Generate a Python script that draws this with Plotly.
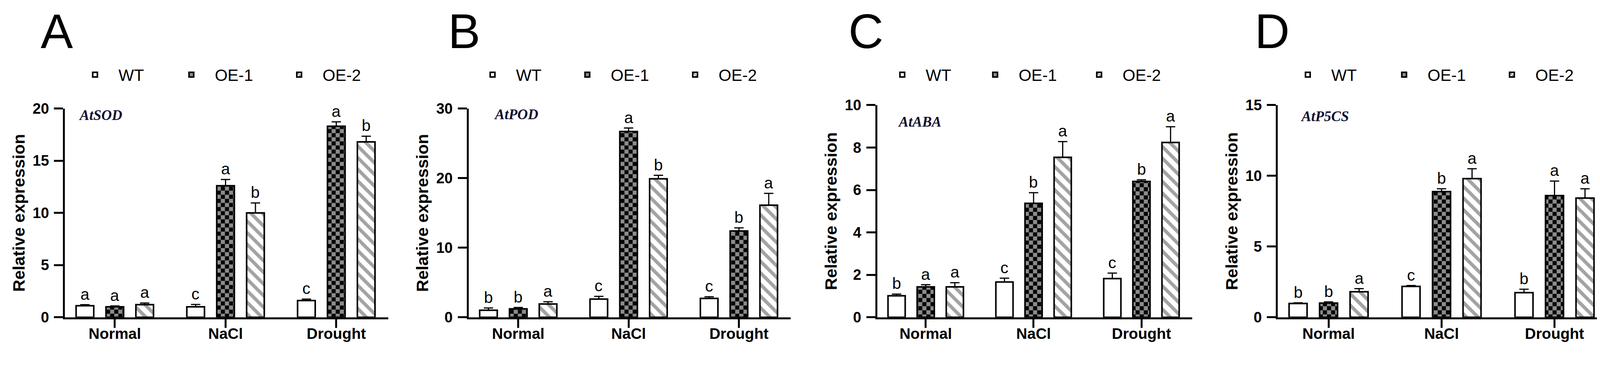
import plotly.graph_objects as go

FIG_W, FIG_H = 4233, 939

# ---------------- data ----------------
conditions = ["Normal", "NaCl", "Drought"]
genotypes = ["WT", "OE-1", "OE-2"]
panel_labels = ["A", "B", "C", "D"]
gene_names = ["AtSOD", "AtPOD", "AtABA", "AtP5CS"]
y_title = "Relative expression"

# A  AtSOD
sod_wt = [1.10, 1.00, 1.60]
sod_wt_sd = [0.10, 0.22, 0.14]
sod_oe1 = [1.00, 12.6, 18.3]
sod_oe1_sd = [0.08, 0.60, 0.42]
sod_oe2 = [1.20, 10.0, 16.8]
sod_oe2_sd = [0.16, 0.95, 0.55]
sod_wt_sig = ["a", "c", "c"]
sod_oe1_sig = ["a", "a", "a"]
sod_oe2_sig = ["a", "b", "b"]
sod_yticks = [0, 5, 10, 15, 20]

# B  AtPOD
pod_wt = [1.00, 2.60, 2.70]
pod_wt_sd = [0.33, 0.40, 0.25]
pod_oe1 = [1.20, 26.7, 12.4]
pod_oe1_sd = [0.20, 0.50, 0.45]
pod_oe2 = [1.90, 19.9, 16.1]
pod_oe2_sd = [0.33, 0.50, 1.70]
pod_wt_sig = ["b", "c", "c"]
pod_oe1_sig = ["b", "a", "b"]
pod_oe2_sig = ["a", "b", "a"]
pod_yticks = [0, 10, 20, 30]

# C  AtABA
aba_wt = [1.01, 1.66, 1.82]
aba_wt_sd = [0.08, 0.18, 0.26]
aba_oe1 = [1.43, 5.37, 6.40]
aba_oe1_sd = [0.10, 0.50, 0.08]
aba_oe2 = [1.43, 7.54, 8.24]
aba_oe2_sd = [0.20, 0.74, 0.74]
aba_wt_sig = ["b", "c", "c"]
aba_oe1_sig = ["a", "b", "b"]
aba_oe2_sig = ["a", "a", "a"]
aba_yticks = [0, 2, 4, 6, 8, 10]

# D  AtP5CS
p5cs_wt = [0.97, 2.18, 1.74]
p5cs_wt_sd = [0.05, 0.06, 0.24]
p5cs_oe1 = [1.00, 8.88, 8.60]
p5cs_oe1_sd = [0.08, 0.20, 1.03]
p5cs_oe2 = [1.80, 9.80, 8.43]
p5cs_oe2_sd = [0.22, 0.70, 0.65]
p5cs_wt_sig = ["b", "c", "b"]
p5cs_oe1_sig = ["b", "b", "a"]
p5cs_oe2_sig = ["a", "a", "a"]
p5cs_yticks = [0, 5, 10, 15]

panels = [
    dict(vals=[sod_wt, sod_oe1, sod_oe2], sds=[sod_wt_sd, sod_oe1_sd, sod_oe2_sd],
         sig=[sod_wt_sig, sod_oe1_sig, sod_oe2_sig], ticks=sod_yticks),
    dict(vals=[pod_wt, pod_oe1, pod_oe2], sds=[pod_wt_sd, pod_oe1_sd, pod_oe2_sd],
         sig=[pod_wt_sig, pod_oe1_sig, pod_oe2_sig], ticks=pod_yticks),
    dict(vals=[aba_wt, aba_oe1, aba_oe2], sds=[aba_wt_sd, aba_oe1_sd, aba_oe2_sd],
         sig=[aba_wt_sig, aba_oe1_sig, aba_oe2_sig], ticks=aba_yticks),
    dict(vals=[p5cs_wt, p5cs_oe1, p5cs_oe2], sds=[p5cs_wt_sd, p5cs_oe1_sd, p5cs_oe2_sd],
         sig=[p5cs_wt_sig, p5cs_oe1_sig, p5cs_oe2_sig], ticks=p5cs_yticks),
]

# ---------------- layout constants (reference pixels) ----------------
KX, KY, KF = 1.022, 1.03, 1.025   # compensation for how the page is photographed
MARGIN = 8

AX_LEFT = [170, 1226, 2295, 3343]
AX_RIGHT = [1016, 2069, 3119, 4206]
AX_TOP = [286, 286, 277, 277]
AX_BOTTOM = 836
LETTER_X = [149, 1215, 2266, 3329]
LETTER_Y = 82
LEG_TEXT_X = [[310, 562, 844], [1350, 1598, 1880], [2422, 2665, 2937], [3483, 3735, 4017]]
LEGEND_Y = 197
GENE_X = [204, 1291, 2348, 3401]
GENE_Y = [303, 301, 321, 306]
XRANGE = [-0.45, 2.47]
BARGAP = 0.19
BARGROUPGAP = 0.41
ITEMW = 110

SANS = "Liberation Sans, Arial, sans-serif"
SERIF = "Liberation Serif, Times New Roman, serif"


def X(px):
    return px / KX - MARGIN


def Y(py):
    return py / KY - MARGIN


def F(sz):
    return round(sz / KF)


def fx(px):
    return X(px) / FIG_W


def fy(py):
    return 1 - Y(py) / FIG_H


# pattern availability check
try:
    go.bar.marker.Pattern(path="M0,0H8V8H0Z")
    HAS_PATH = True
except Exception:
    HAS_PATH = False

if HAS_PATH:
    checker = dict(path="M0,0H10.5V10.5H0ZM10.5,10.5H21V21H10.5Z", size=21, fgcolor="#8c8c8c",
                   bgcolor="#050505", fgopacity=1, fillmode="replace")
else:
    checker = dict(shape="+", size=20, solidity=0.5, fgcolor="#8c8c8c",
                   bgcolor="#050505", fgopacity=1, fillmode="replace")

stripes = dict(shape="\\", size=21, solidity=0.42, fgcolor="#a3a3a3",
               bgcolor="white", fgopacity=1, fillmode="replace")

bar_styles = [
    dict(color="white"),
    dict(color="#050505", pattern=checker),
    dict(color="white", pattern=stripes),
]

fig = go.Figure()
annotations = []
legend_layouts = {}
n_leg = 0

for k, p in enumerate(panels):
    sfx = "" if k == 0 else str(k + 1)
    for j, g in enumerate(genotypes):
        n_leg += 1
        leg = "legend" if n_leg == 1 else f"legend{n_leg}"
        st = bar_styles[j]
        marker = dict(color=st["color"], line=dict(color="black", width=4))
        if "pattern" in st:
            marker["pattern"] = st["pattern"]
        fig.add_trace(go.Bar(
            x=conditions, y=p["vals"][j], name=g,
            marker=marker,
            error_y=dict(type="data", array=p["sds"][j], arrayminus=[0] * len(conditions),
                         symmetric=False, color="black", thickness=3, width=12),
            xaxis="x" + sfx, yaxis="y" + sfx, legend=leg, offsetgroup=str(j),
            showlegend=True,
        ))
        legend_layouts[leg] = dict(
            orientation="h", x=(X(LEG_TEXT_X[k][j]) - (ITEMW + 10)) / FIG_W, y=fy(LEGEND_Y),
            xanchor="left", yanchor="middle",
            font=dict(family=SANS, size=F(43), color="black"), itemwidth=ITEMW,
            bgcolor="rgba(0,0,0,0)", borderwidth=0,
        )
        slot = (1 - BARGAP) / 3
        for i in range(len(conditions)):
            annotations.append(dict(
                x=i + (j - 1) * slot, y=p["vals"][j][i] + p["sds"][j][i],
                xref="x" + sfx, yref="y" + sfx, text=p["sig"][j][i], showarrow=False,
                xanchor="center", yanchor="bottom", yshift=2,
                font=dict(family=SANS, size=F(42), color="black"),
            ))
    # panel letter
    annotations.append(dict(
        x=fx(LETTER_X[k]), y=fy(LETTER_Y), xref="paper", yref="paper",
        text=panel_labels[k], showarrow=False, xanchor="center", yanchor="middle",
        font=dict(family=SANS, size=F(127), color="black"),
    ))
    # gene label
    annotations.append(dict(
        x=fx(GENE_X[k]), y=fy(GENE_Y[k]), xref="paper", yref="paper",
        text=gene_names[k], showarrow=False, xanchor="left", yanchor="middle",
        font=dict(family=SERIF, size=F(38), color="#101030", weight="bold", style="italic"),
    ))
    ymax = p["ticks"][-1]
    fig.layout["xaxis" + sfx] = dict(
        domain=[fx(AX_LEFT[k]), fx(AX_RIGHT[k])], anchor="y" + sfx,
        range=XRANGE, showline=True, linewidth=5, linecolor="black",
        ticks="outside", ticklen=22, tickwidth=5, tickcolor="black",
        showgrid=False, zeroline=False, fixedrange=True, ticklabelstandoff=-18,
        tickfont=dict(family=SANS, size=F(40), color="black", weight="bold"),
    )
    fig.layout["yaxis" + sfx] = dict(
        domain=[fy(AX_BOTTOM), fy(AX_TOP[k])], anchor="x" + sfx,
        range=[0, ymax], tickvals=p["ticks"], showline=True, linewidth=5,
        linecolor="black", ticks="outside", ticklen=23, tickwidth=5, tickcolor="black",
        showgrid=False, zeroline=False, fixedrange=True, ticklabelstandoff=5,
        tickfont=dict(family=SANS, size=F(39), color="black", weight="bold"),
        title=dict(text=y_title, standoff=8,
                   font=dict(family=SANS, size=F(44), color="black", weight="bold")),
    )

for name, cfg in legend_layouts.items():
    fig.layout[name] = cfg

fig.update_layout(
    width=FIG_W, height=FIG_H, margin=dict(l=0, r=0, t=0, b=0, autoexpand=False),
    paper_bgcolor="white", plot_bgcolor="white",
    barmode="group", bargap=BARGAP, bargroupgap=BARGROUPGAP,
    annotations=annotations, showlegend=True,
    font=dict(family=SANS, color="black"),
)

fig.write_html("out.html")
